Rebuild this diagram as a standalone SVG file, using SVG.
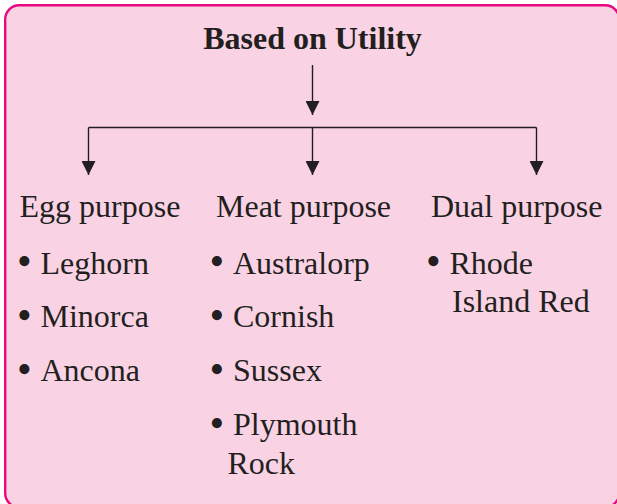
<svg xmlns="http://www.w3.org/2000/svg" width="617" height="504" viewBox="0 0 617 504">
  <style>
    .frame { fill: #F9D3E4; stroke: #E8087F; stroke-width: 2.4; }
    .title { font-family: "Liberation Serif", Tinos, "Times New Roman", serif; font-weight: bold; font-size: 32px; fill: #231F20; }
    .label { font-family: "Liberation Serif", Tinos, "Times New Roman", serif; font-size: 32px; fill: #231F20; }
    .bullet { font-family: "Liberation Serif", Tinos, "Times New Roman", serif; font-size: 42px; fill: #231F20; }
    .conn { fill: none; stroke: #231F20; stroke-width: 1.4; }
  </style>
  <defs>
    <marker id="arrow" markerUnits="userSpaceOnUse" viewBox="0 0 14 14" markerWidth="14" markerHeight="14" refX="14" refY="7" orient="auto">
      <path d="M0,0 L14,7 L0,14 z" fill="#231F20"/>
    </marker>
  </defs>

  <rect class="frame" x="5.2" y="5.2" width="614" height="502" rx="14" ry="14"/>

  <g id="connectors">
    <path class="conn" d="M312.5,65 V115" marker-end="url(#arrow)"/>
    <path class="conn" d="M88.5,127.5 H536.5"/>
    <path class="conn" d="M88.5,127.5 V175" marker-end="url(#arrow)"/>
    <path class="conn" d="M312.5,127.5 V175" marker-end="url(#arrow)"/>
    <path class="conn" d="M536.5,127.5 V175" marker-end="url(#arrow)"/>
  </g>

  <g id="root">
    <text class="title" x="312.5" y="48.5" text-anchor="middle">Based on Utility</text>
  </g>

  <g id="egg">
    <text class="label" x="19.5" y="216.5">Egg purpose</text>
    <text class="label" y="273.5"><tspan class="bullet" x="17" dy="1.5">•</tspan><tspan x="40.5" dy="-1.5">Leghorn</tspan></text>
    <text class="label" y="327"><tspan class="bullet" x="17" dy="1.5">•</tspan><tspan x="40.5" dy="-1.5">Minorca</tspan></text>
    <text class="label" y="381"><tspan class="bullet" x="17" dy="1.5">•</tspan><tspan x="40.5" dy="-1.5">Ancona</tspan></text>
  </g>

  <g id="meat">
    <text class="label" x="216" y="216.5">Meat purpose</text>
    <text class="label" y="273.5"><tspan class="bullet" x="209.5" dy="1.5">•</tspan><tspan x="233" dy="-1.5">Australorp</tspan></text>
    <text class="label" y="327"><tspan class="bullet" x="209.5" dy="1.5">•</tspan><tspan x="233" dy="-1.5">Cornish</tspan></text>
    <text class="label" y="381"><tspan class="bullet" x="209.5" dy="1.5">•</tspan><tspan x="233" dy="-1.5">Sussex</tspan></text>
    <text class="label" y="435"><tspan class="bullet" x="209.5" dy="1.5">•</tspan><tspan x="233" dy="-1.5">Plymouth</tspan></text>
    <text class="label" x="227.5" y="473.5">Rock</text>
  </g>

  <g id="dual">
    <text class="label" x="431" y="216.5">Dual purpose</text>
    <text class="label" y="273.5"><tspan class="bullet" x="426" dy="1.5">•</tspan><tspan x="449.5" dy="-1.5">Rhode</tspan></text>
    <text class="label" x="452" y="311.5">Island Red</text>
  </g>
</svg>
